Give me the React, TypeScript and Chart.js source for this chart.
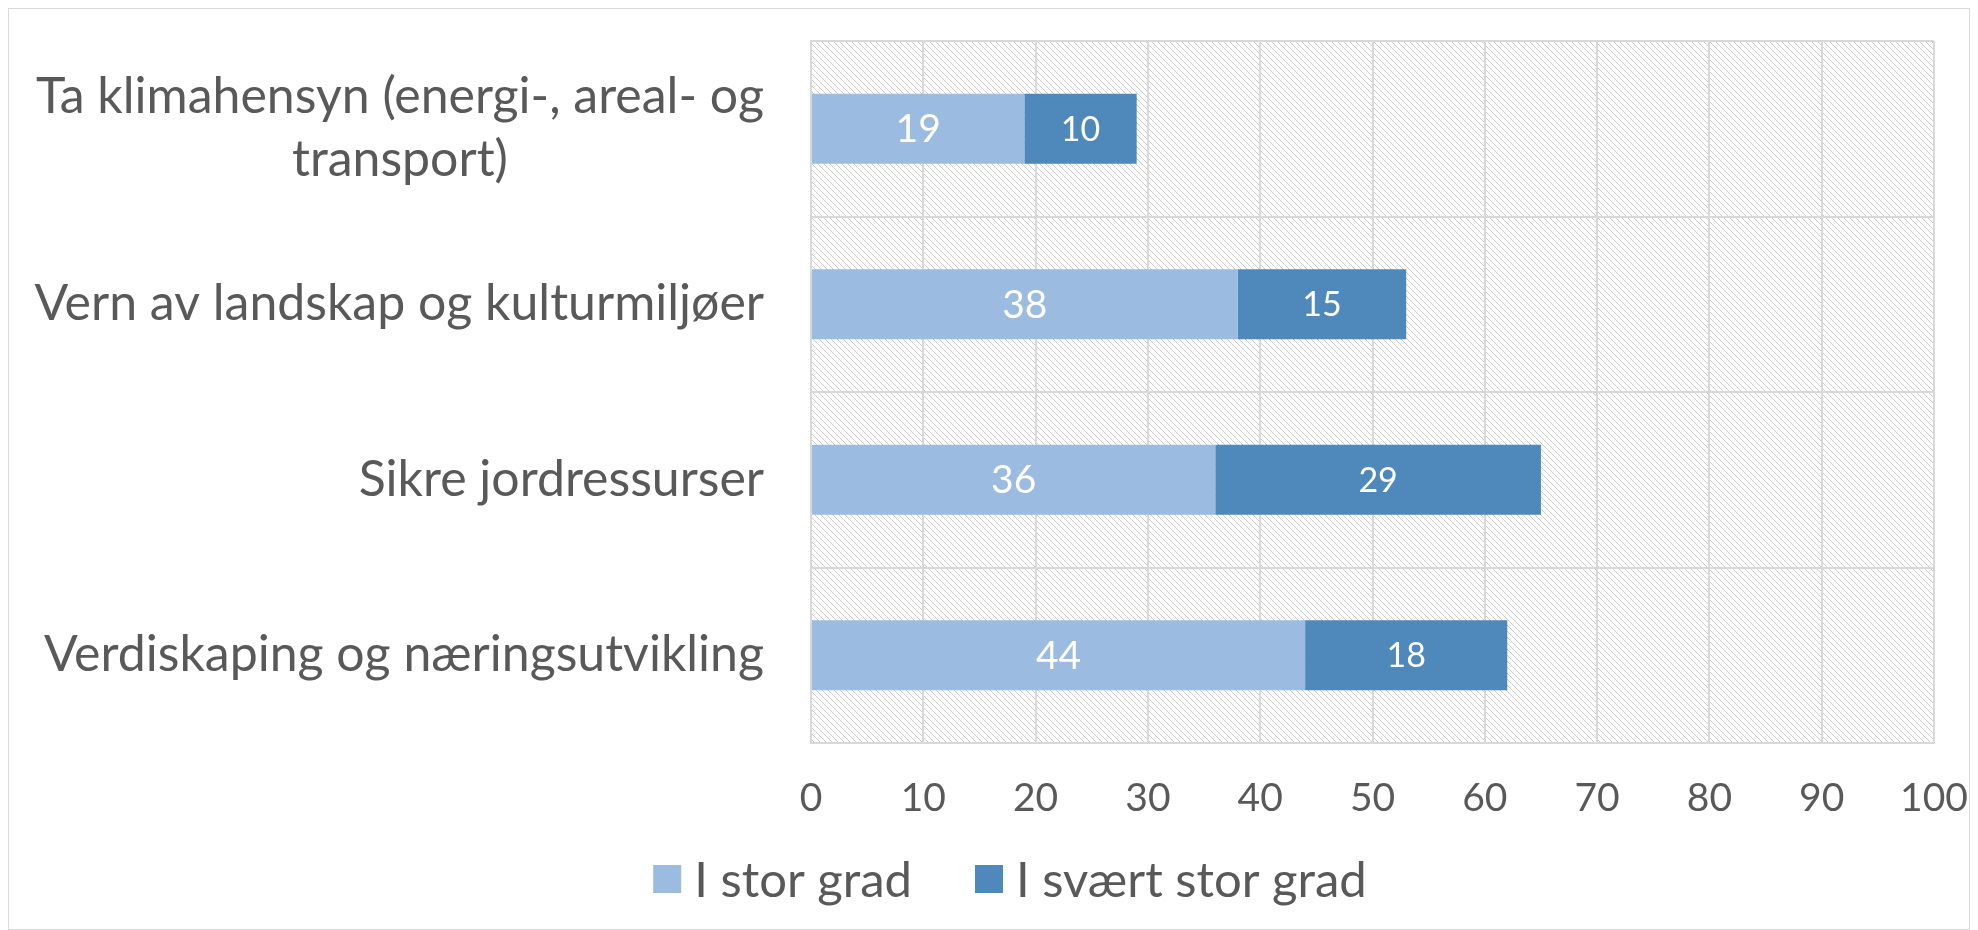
import React, { useEffect, useRef } from "react";
import { Chart, registerables } from "chart.js";

Chart.register(...registerables);

const categories: string[][] = [
  ["Ta klimahensyn (energi-, areal- og", "transport)"],
  ["Vern av landskap og kulturmiljøer"],
  ["Sikre jordressurser"],
  ["Verdiskaping og næringsutvikling"],
];
const seriesNames = ["I stor grad", "I svært stor grad"];
const iStorGrad = [19, 38, 36, 44];
const iSvaertStorGrad = [10, 15, 29, 18];
const xTicksMin = 0;
const xTicksMax = 100;
const xTickStep = 10;

const LIGHT = "#9BBBE0";
const DARK = "#4F89BB";
const TEXT = "#595959";
const GRID = "#d9d9d9";
const FONT = "Lato, 'Open Sans', sans-serif";

function makeHatch(): CanvasPattern | string {
  const c = document.createElement("canvas");
  c.width = 6;
  c.height = 6;
  const g = c.getContext("2d");
  if (!g) return "#f2f2f2";
  g.fillStyle = "#ffffff";
  g.fillRect(0, 0, 6, 6);
  g.fillStyle = "#cccccc";
  for (let i = 0; i < 6; i++) {
    g.fillRect(i, i, 1, 1);
  }
  const p = g.createPattern(c, "repeat");
  return p || "#f2f2f2";
}

const hatchPlugin = {
  id: "hatchBg",
  beforeDraw(chart: any) {
    const { ctx, chartArea } = chart;
    if (!chartArea) return;
    ctx.save();
    ctx.fillStyle = makeHatch();
    ctx.fillRect(chartArea.left, chartArea.top, chartArea.right - chartArea.left, chartArea.bottom - chartArea.top);
    ctx.restore();
  },
};

const yLabelPlugin = {
  id: "yLabels",
  afterDraw(chart: any) {
    const { ctx, chartArea } = chart;
    const yScale = chart.scales.y;
    const lineSpacing = 63;
    ctx.save();
    ctx.font = `50px ${FONT}`;
    ctx.fillStyle = TEXT;
    ctx.textAlign = "center";
    ctx.textBaseline = "middle";
    const right = chartArea.left - 47;
    categories.forEach((lines, i) => {
      const cy = yScale.getPixelForValue(i);
      const blockW = Math.max(...lines.map((l) => ctx.measureText(l).width));
      const cx = right - blockW / 2;
      const startY = cy - ((lines.length - 1) * lineSpacing) / 2;
      lines.forEach((l, j) => {
        ctx.fillText(l, cx, startY + j * lineSpacing);
      });
    });
    ctx.restore();
  },
};

const dataLabelPlugin = {
  id: "barValueLabels",
  afterDatasetsDraw(chart: any) {
    const { ctx } = chart;
    ctx.save();
    ctx.fillStyle = "#ffffff";
    ctx.textAlign = "center";
    ctx.textBaseline = "middle";
    chart.data.datasets.forEach((ds: any, di: number) => {
      const meta = chart.getDatasetMeta(di);
      ctx.font = di === 0 ? `39px ${FONT}` : `34px ${FONT}`;
      meta.data.forEach((bar: any, i: number) => {
        const v = ds.data[i];
        const x = (bar.x + bar.base) / 2;
        ctx.fillText(String(v), x, bar.y + 1);
      });
    });
    ctx.restore();
  },
};

const legendPlugin = {
  id: "customLegend",
  afterDraw(chart: any) {
    const { ctx, width } = chart;
    const box = 28;
    const gap = 13;
    const itemGap = 63;
    const cy = 870;
    ctx.save();
    ctx.font = `49px ${FONT}`;
    ctx.textBaseline = "middle";
    ctx.textAlign = "left";
    const colors = chart.data.datasets.map((d: any) => d.backgroundColor);
    const widths = seriesNames.map((n) => ctx.measureText(n).width);
    const total = widths.reduce((a, w) => a + box + gap + w, 0) + itemGap * (seriesNames.length - 1);
    let x = width / 2 + 21 - total / 2;
    seriesNames.forEach((n, i) => {
      ctx.fillStyle = colors[i];
      ctx.fillRect(x, cy - box / 2, box, box);
      x += box + gap;
      ctx.fillStyle = TEXT;
      ctx.fillText(n, x, cy + 2);
      x += widths[i] + itemGap;
    });
    ctx.restore();
  },
};

export default function App() {
  const ref = useRef<HTMLCanvasElement | null>(null);

  useEffect(() => {
    document.documentElement.style.overflow = "hidden";
    document.body.style.overflow = "hidden";
    if (!ref.current) return;
    const chart = new Chart(ref.current, {
      type: "bar",
      data: {
        labels: categories.map((c) => c.join(" ")),
        datasets: [
          {
            label: seriesNames[0],
            data: iStorGrad,
            backgroundColor: LIGHT,
            barPercentage: 0.4,
            categoryPercentage: 1,
          },
          {
            label: seriesNames[1],
            data: iSvaertStorGrad,
            backgroundColor: DARK,
            barPercentage: 0.4,
            categoryPercentage: 1,
          },
        ],
      },
      options: {
        indexAxis: "y",
        animation: false,
        responsive: true,
        maintainAspectRatio: false,
        layout: { padding: { left: 0, right: 35, top: 32, bottom: 80 } },
        plugins: {
          legend: { display: false },
          tooltip: { enabled: false },
        },
        scales: {
          x: {
            stacked: true,
            min: xTicksMin,
            max: xTicksMax,
            ticks: {
              stepSize: xTickStep,
              color: TEXT,
              font: { family: FONT, size: 39 },
              padding: 32,
            },
            grid: { color: GRID, lineWidth: 2, drawTicks: false },
            border: { display: true, color: GRID, width: 2 },
            afterFit: (s: any) => {
              s.height = 106;
              s.paddingLeft = 0;
              s.paddingRight = 0;
            },
          },
          y: {
            stacked: true,
            ticks: { display: false },
            grid: { color: GRID, lineWidth: 2, drawTicks: false, offset: true },
            border: { display: true, color: GRID, width: 2 },
            afterFit: (s: any) => {
              s.width = 802;
            },
          },
        },
      },
      plugins: [hatchPlugin, dataLabelPlugin, yLabelPlugin, legendPlugin],
    });
    return () => chart.destroy();
  }, []);

  return (
    <div
      style={{
        border: "1px solid #d9d9d9",
        height: 922,
        boxSizing: "border-box",
        position: "relative",
      }}
    >
      <canvas ref={ref} />
    </div>
  );
}
